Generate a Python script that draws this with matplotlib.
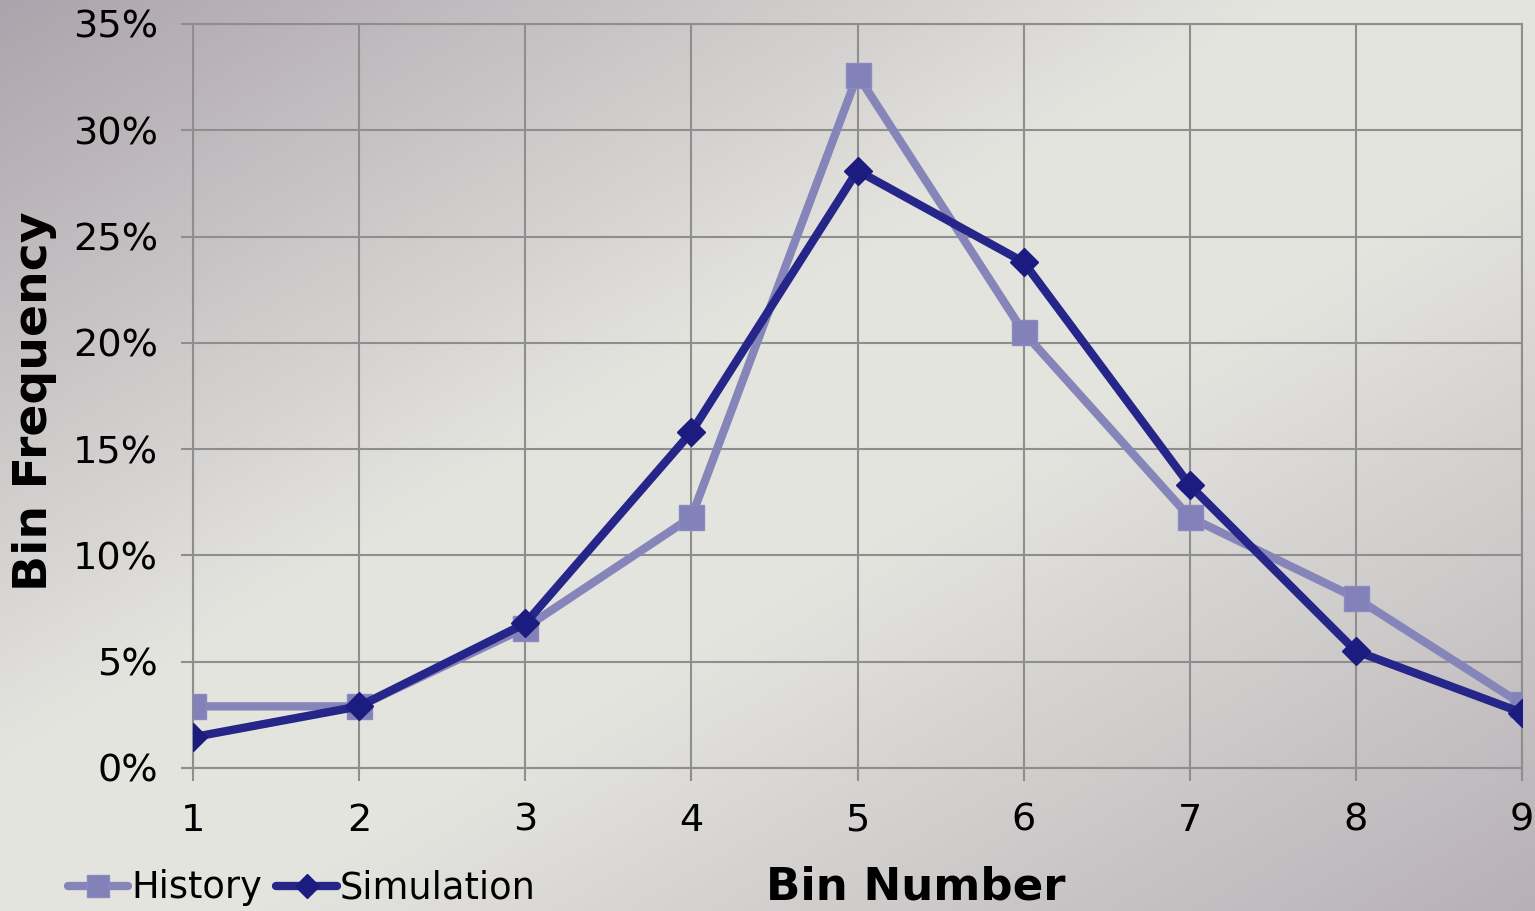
import numpy as np
import matplotlib
matplotlib.use("Agg")
import matplotlib.pyplot as plt
from matplotlib.ticker import FuncFormatter

bins = [1, 2, 3, 4, 5, 6, 7, 8, 9]
history = [2.9, 2.9, 6.6, 11.8, 32.6, 20.5, 11.8, 8.0, 3.0]
simulation = [1.45, 2.9, 6.8, 15.8, 28.1, 23.8, 13.3, 5.5, 2.6]
y_ticks = [0, 5, 10, 15, 20, 25, 30, 35]

W, H = 1535, 911
fig = plt.figure(figsize=(W / 100, H / 100), dpi=100)

# background gradient: light diagonal band, mauve corners
bg = fig.add_axes([0, 0, 1, 1], zorder=-10)
yy, xx = np.mgrid[0:H, 0:W].astype(float)
d = (xx * H + (yy - H) * W) / np.hypot(W, H)
t = np.where(d < 0, (-d - 130) / 650, 0.8 * (d - 130) / 650)
t = np.clip(t, 0, 1)
light = np.array([228, 228, 223]) / 255
dark = np.array([172, 164, 172]) / 255
img = light[None, None, :] * (1 - t[..., None]) + dark[None, None, :] * t[..., None]
bg.imshow(img, aspect="auto", extent=[0, 1, 0, 1], origin="upper")
bg.axis("off")

ax = fig.add_axes([193 / W, 1 - 768 / H, (1522 - 193) / W, (768 - 24) / H])
ax.patch.set_alpha(0)

grid_c = "#8e8e8e"
ax.plot(bins, history, color="#8585ba", lw=6, marker="s", ms=18,
        mfc="#8282b8", mec="#8a8ac0", mew=1, label="History", zorder=3,
        solid_joinstyle="round", solid_capstyle="round")
ax.plot(bins, simulation, color="#26268a", lw=6, marker="D", ms=14,
        mfc="#1c1c80", mec="#1c1c80", label="Simulation", zorder=4,
        solid_joinstyle="round", solid_capstyle="round")

ax.set_xlim(1, 9)
ax.set_ylim(0, 35)
ax.set_xticks(bins)
ax.set_yticks(y_ticks)
ax.yaxis.set_major_formatter(FuncFormatter(lambda v, p: f"{int(v)}%"))
ax.grid(True, color=grid_c, lw=1.5)
ax.set_axisbelow(True)
for s in ax.spines.values():
    s.set_color(grid_c)
    s.set_linewidth(1.5)
ax.tick_params(axis="both", colors=grid_c, labelcolor="black", length=9,
               width=1.5, labelsize=27.5)
ax.tick_params(axis="x", pad=16)
ax.tick_params(axis="y", pad=16)

fig.text(916 / W, (911 - 899) / H, "Bin Number", ha="center", va="baseline",
         fontsize=32.5, fontweight="bold")
fig.text(35 / W, 1 - 401 / H, "Bin Frequency", ha="center", va="center",
         rotation=90, fontsize=34, fontweight="bold")

leg = fig.legend(loc="lower left", bbox_to_anchor=(64 / W, 0.001), ncol=2,
                 frameon=False, fontsize=26.5, handlelength=1.65, handletextpad=0.08,
                 columnspacing=0.38, borderaxespad=0, borderpad=0.1, markerscale=0.9)

fig.savefig("out.png", dpi=100)
